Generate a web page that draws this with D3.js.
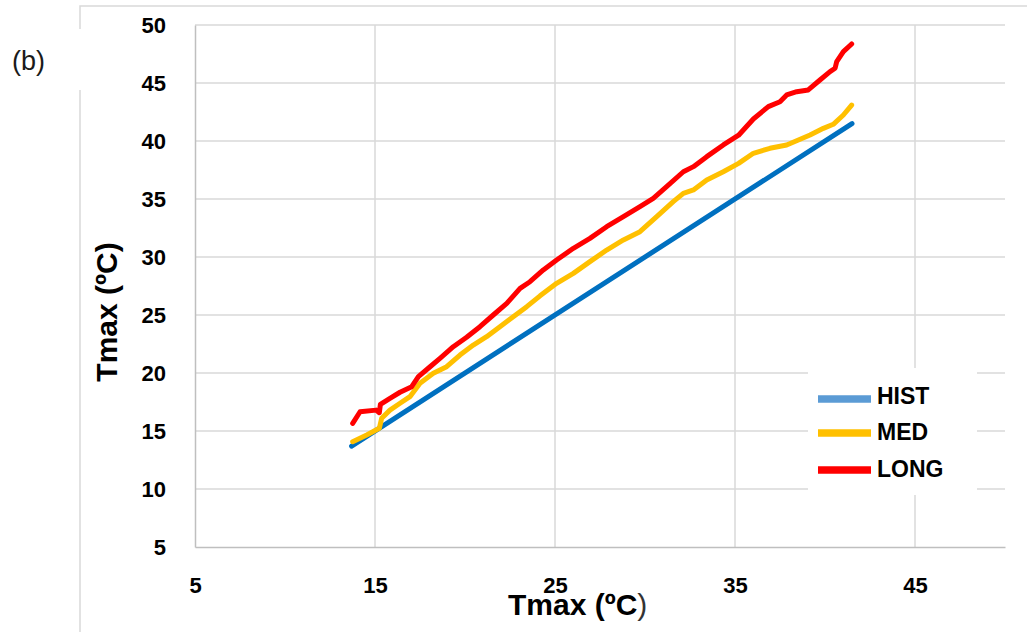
<!DOCTYPE html>
<html>
<head>
<meta charset="utf-8">
<script src="https://cdn.jsdelivr.net/npm/d3@7"></script>
<style>
html,body{margin:0;padding:0;background:#fff;}
svg{display:block;}
text{font-family:"Liberation Sans",Arial,sans-serif;}
</style>
</head>
<body>
<svg id="chart" width="1027" height="632"></svg>
<script>
// ---- data ----
const xTicks = [5, 15, 25, 35, 45];
const yTicks = [5, 10, 15, 20, 25, 30, 35, 40, 45, 50];
const seriesNames = ["HIST", "MED", "LONG"];
const lineColors = ["#0070C0", "#FFC000", "#FF0000"];
const legendColors = ["#5B9BD5", "#FFC000", "#FF0000"];

const histX = [13.7, 41.5];
const histY = [13.7, 41.5];

const medX = [13.76,14.54,15.24,15.37,15.83,16.39,16.94,17.5,18.24,18.98,19.72,20.46,21.2,21.94,22.68,23.43,24.17,25.09,26.02,26.94,27.87,28.8,29.72,30.65,31.57,32.13,32.69,33.43,34.35,35.2,36.02,36.94,37.87,38.52,39.17,39.91,40.46,41.02,41.48];
const medY = [14.08,14.66,15.23,16.1,16.8,17.39,17.96,19.11,19.97,20.54,21.55,22.41,23.13,23.99,24.85,25.72,26.65,27.73,28.59,29.6,30.6,31.47,32.18,33.48,34.77,35.49,35.78,36.64,37.35,38.07,38.94,39.37,39.66,40.09,40.52,41.09,41.44,42.24,43.1];

const longX = [13.76,14.17,15.06,15.24,15.3,15.83,16.39,17.04,17.41,18.06,18.61,19.35,20.09,20.83,21.57,22.32,23.06,23.61,24.35,25.09,26.02,26.94,27.87,28.8,29.72,30.46,31.2,32.13,32.69,33.43,34.35,35.2,36.02,36.85,37.5,37.87,38.43,39.07,39.72,40.28,40.56,40.65,41.02,41.48];
const longY = [15.66,16.66,16.8,16.58,17.3,17.82,18.34,18.82,19.68,20.54,21.26,22.27,23.08,23.99,25.0,26.0,27.3,27.87,28.88,29.74,30.75,31.61,32.61,33.48,34.34,35.06,36.06,37.35,37.79,38.65,39.66,40.5,41.9,42.96,43.39,43.97,44.25,44.4,45.26,45.98,46.27,46.84,47.7,48.36];

const seriesX = [histX, medX, longX];
const seriesY = [histY, medY, longY];

// ---- drawing ----
const svg = d3.select("#chart");
const x = d3.scaleLinear().domain([5, 50]).range([195, 1005]);
const y = d3.scaleLinear().domain([5, 50]).range([547, 25]);

// outer frame (partial, with gap for panel label)
svg.append("path")
  .attr("d", "M80,29 V6 H1027 M80,90 V632")
  .attr("fill", "none").attr("stroke", "#d9d9d9").attr("stroke-width", 1.5);

svg.append("text").attr("x", 12).attr("y", 70)
  .attr("font-size", 27).attr("fill", "#1a1a1a").text("(b)");

// gridlines
const grid = svg.append("g");
grid.selectAll("line.h").data(yTicks.filter(d => d > 5)).join("line")
  .attr("x1", x(5)).attr("x2", x(50))
  .attr("y1", d => y(d)).attr("y2", d => y(d))
  .attr("stroke", "#d9d9d9").attr("stroke-width", 1.5);
grid.selectAll("line.v").data(xTicks.filter(d => d > 5)).join("line")
  .attr("x1", d => x(d)).attr("x2", d => x(d))
  .attr("y1", y(5)).attr("y2", y(50))
  .attr("stroke", "#d9d9d9").attr("stroke-width", 1.5);

// axes via d3
const xAxis = svg.append("g").attr("transform", `translate(0,${y(5)})`)
  .call(d3.axisBottom(x).tickValues(xTicks).tickSize(0).tickPadding(30));
xAxis.select(".domain").attr("stroke", "#bfbfbf").attr("stroke-width", 1.5);
xAxis.selectAll("text").attr("font-family", "Liberation Sans, Arial, sans-serif")
  .attr("font-size", 22).attr("font-weight", "bold").attr("fill", "#000")
  .attr("dy", "0.71em");

const yAxis = svg.append("g").attr("transform", `translate(${x(5)},0)`)
  .call(d3.axisLeft(y).tickValues(yTicks).tickSize(0).tickPadding(29));
yAxis.select(".domain").attr("stroke", "#bfbfbf").attr("stroke-width", 1.5);
yAxis.selectAll("text").attr("font-family", "Liberation Sans, Arial, sans-serif")
  .attr("font-size", 22).attr("font-weight", "bold").attr("fill", "#000");

// lines
const line = d3.line().x(d => x(d[0])).y(d => y(d[1]));
seriesNames.forEach((name, i) => {
  const pts = seriesX[i].map((v, j) => [v, seriesY[i][j]]);
  svg.append("path").datum(pts)
    .attr("d", line)
    .attr("fill", "none")
    .attr("stroke", lineColors[i])
    .attr("stroke-width", 5)
    .attr("stroke-linejoin", "round")
    .attr("stroke-linecap", "round");
});

// legend
const lg = svg.append("g");
lg.append("rect").attr("x", 808).attr("y", 368).attr("width", 169).attr("height", 127).attr("fill", "#fff");
const rows = [399, 433, 470];
seriesNames.forEach((name, i) => {
  lg.append("line").attr("x1", 818).attr("x2", 871)
    .attr("y1", rows[i]).attr("y2", rows[i])
    .attr("stroke", legendColors[i]).attr("stroke-width", 7.5);
  lg.append("text").attr("x", 877).attr("y", rows[i] + (i === 0 ? 5 : 7))
    .attr("font-size", 23).attr("font-weight", "bold").attr("fill", "#000")
    .text(name);
});

// axis titles
svg.append("text").attr("x", 508).attr("y", 615)
  .attr("font-size", 30).attr("font-weight", "bold").attr("fill", "#000")
  .text("Tmax (ºC")
  .append("tspan").attr("font-weight", "normal").attr("fill", "#333").text(")");

svg.append("text")
  .attr("transform", "translate(117,312) rotate(-90)")
  .attr("text-anchor", "middle")
  .attr("font-size", 30).attr("font-weight", "bold").attr("fill", "#000")
  .text("Tmax (ºC)");
</script>
</body>
</html>
